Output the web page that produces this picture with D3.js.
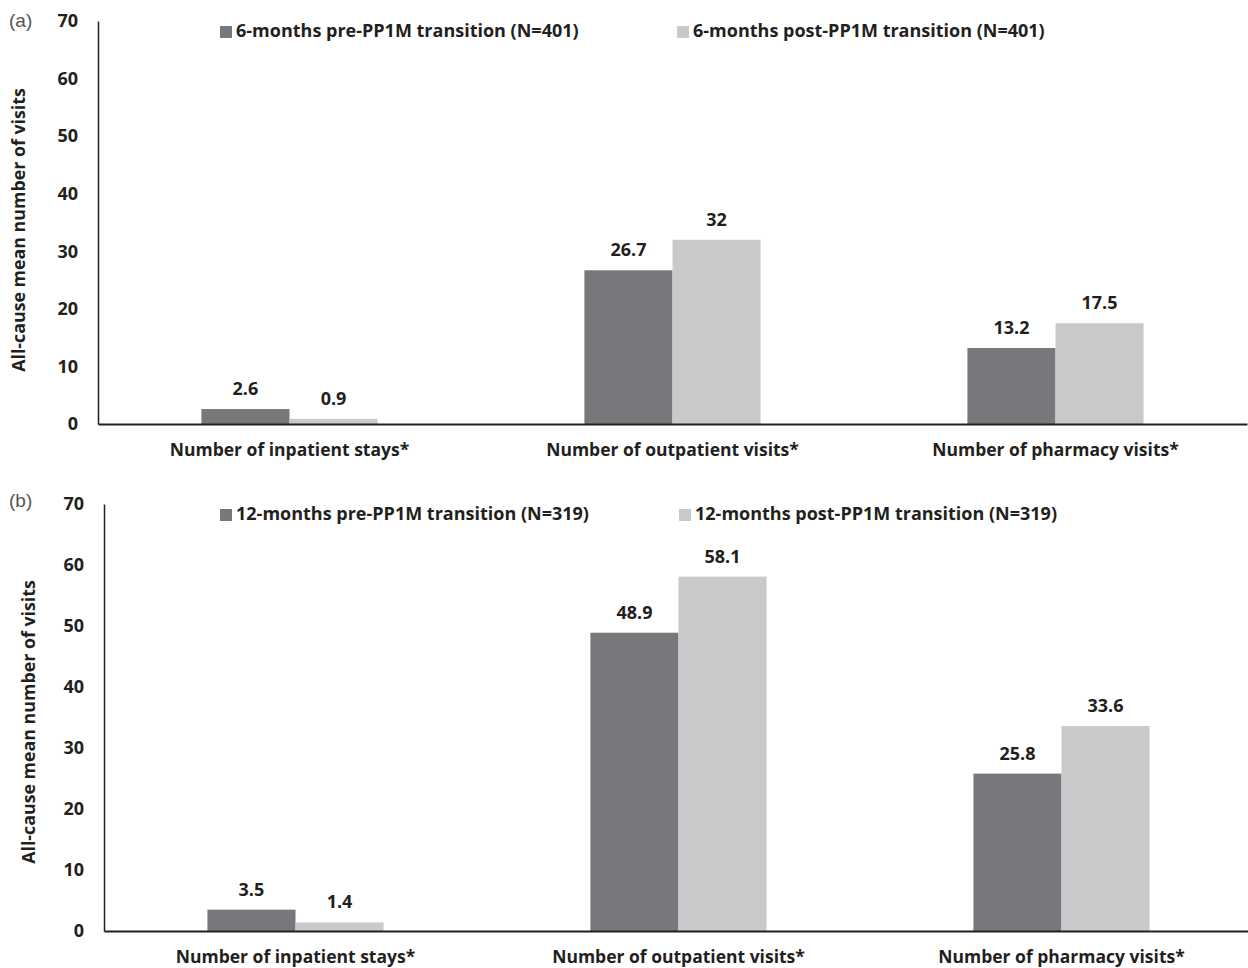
<!DOCTYPE html>
<html>
<head>
<meta charset="utf-8">
<script src="https://cdn.jsdelivr.net/npm/d3@7"></script>
<style>
  html, body { margin: 0; padding: 0; background: #fff; }
  svg { display: block; }
  text { font-family: "Open Sans", Lato, sans-serif; fill: #231f20; }
</style>
</head>
<body>
<svg id="chart" width="1248" height="968"></svg>
<script>
// Categories shared by both panels
const categories = ["Number of inpatient stays*", "Number of outpatient visits*", "Number of pharmacy visits*"];

// Panel (a): 6-month windows
const seriesA = ["6-months pre-PP1M transition (N=401)", "6-months post-PP1M transition (N=401)"];
const preA = [2.6, 26.7, 13.2];
const postA = [0.9, 32, 17.5];

// Panel (b): 12-month windows
const seriesB = ["12-months pre-PP1M transition (N=319)", "12-months post-PP1M transition (N=319)"];
const preB = [3.5, 48.9, 25.8];
const postB = [1.4, 58.1, 33.6];

const yTicks = [0, 10, 20, 30, 40, 50, 60, 70];
const yLabel = "All-cause mean number of visits";

const colors = ["#77787b", "#c8c9cb"];
const FONT = "'Open Sans', Lato, sans-serif";
const svg = d3.select("#chart");

function drawPanel(cfg) {
  const g = svg.append("g");
  const x0 = d3.scaleBand().domain(categories).range([cfg.left, cfg.right])
    .paddingInner(0.54).paddingOuter(0.27);
  const x1 = d3.scaleBand().domain([0, 1]).range([0, x0.bandwidth()]);
  const y = d3.scaleLinear().domain([0, 70]).range([cfg.bottom, cfg.top]);

  // bars
  const rows = categories.map((c, i) => ({ c, v: [cfg.pre[i], cfg.post[i]] }));
  const grp = g.selectAll("g.cat").data(rows).join("g")
    .attr("transform", d => `translate(${x0(d.c)},0)`);
  grp.selectAll("rect").data(d => d.v.map((v, k) => ({ v, k }))).join("rect")
    .attr("x", d => x1(d.k)).attr("width", x1.bandwidth())
    .attr("y", d => y(d.v)).attr("height", d => y(0) - y(d.v))
    .attr("fill", d => colors[d.k]);
  grp.selectAll("text.val").data(d => d.v.map((v, k) => ({ v, k }))).join("text")
    .attr("class", "val")
    .attr("x", d => x1(d.k) + x1.bandwidth() / 2)
    .attr("y", d => y(d.v) - 14)
    .attr("text-anchor", "middle")
    .attr("font-weight", 700).attr("font-size", 18)
    .text(d => d.v);

  // y axis
  const ya = d3.axisLeft(y).tickValues(yTicks).tickSize(0).tickPadding(20);
  const yg = g.append("g").attr("transform", `translate(${cfg.left},0)`).call(ya);
  yg.select(".domain").attr("stroke", "#231f20").attr("stroke-width", 1.5);
  yg.selectAll("text").attr("font-size", 18).attr("font-weight", 700)
    .style("font-family", FONT).attr("fill", "#231f20");

  // x axis
  const xa = d3.axisBottom(x0).tickSize(0).tickPadding(20);
  const xg = g.append("g").attr("transform", `translate(0,${cfg.bottom})`).call(xa);
  xg.select(".domain").attr("stroke", "#231f20").attr("stroke-width", 2);
  xg.selectAll("text").attr("font-size", 17.5).attr("font-weight", 700)
    .style("font-family", FONT).attr("fill", "#231f20");

  // y axis title
  g.append("text")
    .attr("transform", `translate(${cfg.titleX},${cfg.titleY}) rotate(-90)`)
    .attr("text-anchor", "middle").attr("dominant-baseline", "middle")
    .attr("font-size", 17.8).attr("font-weight", 700)
    .text(yLabel);

  // panel tag
  g.append("text").attr("x", 9).attr("y", cfg.tagY)
    .style("font-family", "'Liberation Sans', Arial, sans-serif")
    .attr("font-size", 19)
    .style("fill", "#555")
    .text(cfg.tag);

  // legend
  cfg.series.forEach((s, k) => {
    const lx = cfg.legendX[k];
    g.append("rect").attr("x", lx).attr("y", cfg.legendY - 6).attr("width", 12).attr("height", 12)
      .attr("fill", colors[k]);
    g.append("text").attr("x", lx + 16).attr("y", cfg.legendY)
      .attr("dominant-baseline", "middle")
      .attr("font-size", 18).attr("font-weight", 700)
      .text(s);
  });
}

drawPanel({ tag: "(a)", left: 98, right: 1247, top: 21, bottom: 424, titleX: 20, titleY: 230, tagY: 27,
  pre: preA, post: postA, series: seriesA, legendX: [220, 677], legendY: 32 });
drawPanel({ tag: "(b)", left: 104, right: 1253, top: 504, bottom: 931, titleX: 30, titleY: 722, tagY: 507,
  pre: preB, post: postB, series: seriesB, legendX: [220, 679], legendY: 515 });
</script>
</body>
</html>
